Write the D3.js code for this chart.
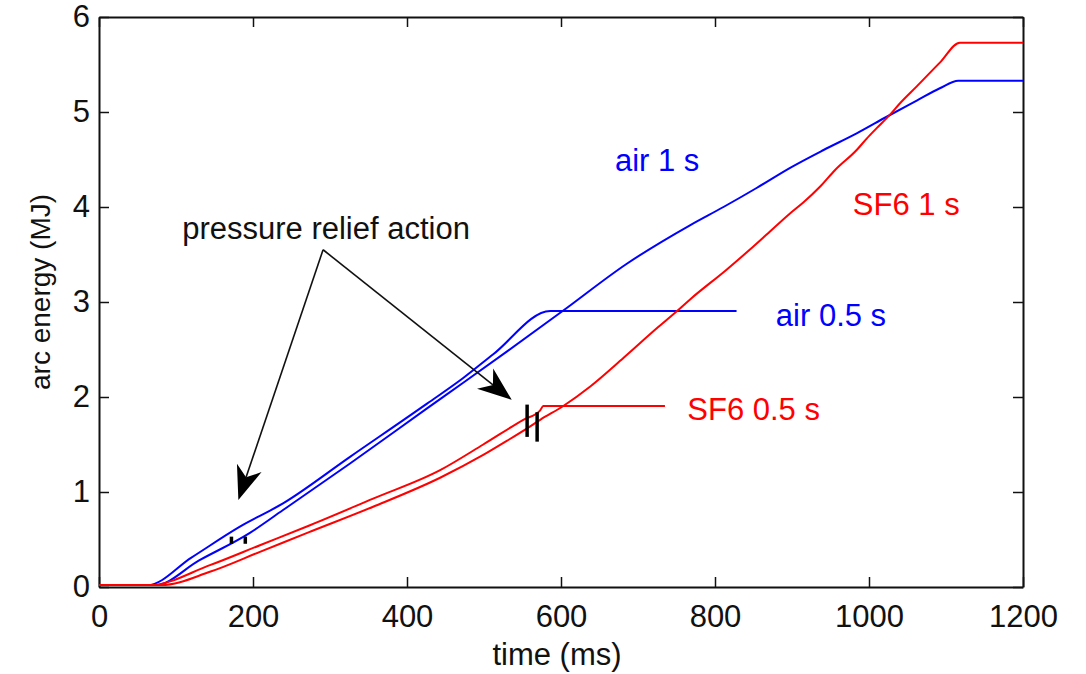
<!DOCTYPE html>
<html>
<head>
<meta charset="utf-8">
<script src="https://cdn.jsdelivr.net/npm/d3@7/dist/d3.min.js"></script>
<style>
  html, body { margin: 0; padding: 0; background: #fff; }
  svg { display: block; }
  text { font-family: "Liberation Sans", Arial, Helvetica, sans-serif; }
</style>
</head>
<body>
<svg id="chart" width="1086" height="674"></svg>
<script>
// Axis ticks
const xTicks = [0, 200, 400, 600, 800, 1000, 1200];
const yTicks = [0, 1, 2, 3, 4, 5, 6];

// Arc energy (MJ) against time (ms)
const airLongTime   = [0, 73, 130, 196, 239, 326, 426, 473, 530, 603, 685, 768, 811, 854, 897, 941, 984, 1023, 1062, 1092, 1116, 1200];
const airLongEnergy = [0.02, 0.02, 0.28, 0.57, 0.81, 1.30, 1.88, 2.15, 2.48, 2.91, 3.40, 3.81, 4.00, 4.20, 4.41, 4.60, 4.775, 4.95, 5.12, 5.25, 5.33, 5.33];

const airShortTime   = [0, 63, 120, 183, 239, 326, 426, 473, 512, 586, 828];
const airShortEnergy = [0.02, 0.02, 0.31, 0.635, 0.88, 1.37, 1.93, 2.20, 2.45, 2.905, 2.905];

const sf6LongTime   = [0, 81, 144, 209, 272, 356, 443, 499, 530, 556, 573, 603, 638, 681, 724, 750, 768, 815, 845, 867, 897, 915, 936, 956, 984, 997, 1010, 1027, 1040, 1062, 1092, 1118, 1200];
const sf6LongEnergy = [0.02, 0.02, 0.16, 0.37, 0.575, 0.845, 1.15, 1.39, 1.54, 1.67, 1.76, 1.905, 2.11, 2.41, 2.72, 2.90, 3.03, 3.34, 3.55, 3.71, 3.93, 4.05, 4.21, 4.39, 4.60, 4.72, 4.83, 4.97, 5.09, 5.27, 5.52, 5.73, 5.73];

const sf6ShortTime   = [0, 66, 144, 209, 274, 356, 443, 499, 551, 573, 577, 735];
const sf6ShortEnergy = [0.02, 0.02, 0.23, 0.44, 0.65, 0.93, 1.23, 1.50, 1.76, 1.86, 1.905, 1.905];

// Curve labels (left edge, baseline)
const curveLabels = [
  { text: "air 1 s",   t: 670, e: 4.38, color: "#0000ff" },
  { text: "air 0.5 s", t: 879, e: 2.75, color: "#0000ff" },
  { text: "SF6 1 s",   t: 979, e: 3.92, color: "#ff0000" },
  { text: "SF6 0.5 s", t: 764, e: 1.76, color: "#ff0000" }
];

// Pressure relief annotation: text, arrow origin and arrow tips
const reliefText = { text: "pressure relief action", t: 108, e: 3.66 };
const arrowOrigin = { t: 291, e: 3.55 };
const arrowTips = [ { t: 181, e: 0.915 }, { t: 536, e: 1.97 } ];

// Short black bars marking the relief events
const reliefMarks = [
  { t: 172, e0: 0.455, e1: 0.53 },
  { t: 190, e0: 0.455, e1: 0.53 },
  { t: 556, e0: 1.58, e1: 1.92 },
  { t: 569, e0: 1.53, e1: 1.84 }
];

const svg = d3.select("#chart");
const margin = { left: 99, right: 63, top: 17, bottom: 87 };
const W = 1086, H = 674;

const x = d3.scaleLinear().domain([0, 1200]).range([margin.left, W - margin.right]);
const y = d3.scaleLinear().domain([0, 6]).range([H - margin.bottom, margin.top]);

const fontSize = 31;
const fmt = d3.format("d");

// Axes with inward ticks on all four sides
const gx = svg.append("g").attr("transform", `translate(0,${y(0)})`)
  .call(d3.axisBottom(x).tickValues(xTicks).tickFormat(fmt).tickSize(-10).tickSizeOuter(0).tickPadding(18));
const gy = svg.append("g").attr("transform", `translate(${x(0)},0)`)
  .call(d3.axisLeft(y).tickValues(yTicks).tickFormat(fmt).tickSize(-10).tickSizeOuter(0).tickPadding(9));
const gt = svg.append("g").attr("transform", `translate(0,${y(6)})`)
  .call(d3.axisTop(x).tickValues(xTicks).tickSize(-10).tickSizeOuter(0).tickFormat(""));
const gr = svg.append("g").attr("transform", `translate(${x(1200)},0)`)
  .call(d3.axisRight(y).tickValues(yTicks).tickSize(-10).tickSizeOuter(0).tickFormat(""));

[gx, gy, gt, gr].forEach(g => {
  g.select(".domain").attr("stroke", "#111").attr("stroke-width", 2);
  g.selectAll(".tick line").attr("stroke", "#111").attr("stroke-width", 1.5);
  g.selectAll(".tick text").attr("fill", "#111").style("font-size", fontSize + "px")
    .style("font-family", "'Liberation Sans', Arial, sans-serif");
});

// Axis titles
svg.append("text")
  .attr("x", 557)
  .attr("y", 665)
  .attr("text-anchor", "middle")
  .style("font-size", fontSize + "px")
  .attr("fill", "#111")
  .text("time (ms)");

svg.append("text")
  .attr("transform", "translate(50,292) rotate(-90)")
  .attr("text-anchor", "middle")
  .style("font-size", "28px")
  .attr("fill", "#111")
  .text("arc energy (MJ)");

// Curves
const line = d3.line().x(d => x(d[0])).y(d => y(d[1])).curve(d3.curveMonotoneX);
const series = [
  { t: airLongTime,   e: airLongEnergy,   color: "#0000ff" },
  { t: airShortTime,  e: airShortEnergy,  color: "#0000ff" },
  { t: sf6LongTime,   e: sf6LongEnergy,   color: "#ff0000" },
  { t: sf6ShortTime,  e: sf6ShortEnergy,  color: "#ff0000" }
];
const plot = svg.append("g");
series.forEach(s => {
  plot.append("path")
    .datum(s.t.map((t, i) => [t, s.e[i]]))
    .attr("fill", "none")
    .attr("stroke", s.color)
    .attr("stroke-width", 2)
    .attr("stroke-linejoin", "round")
    .attr("d", line);
});

// Relief marks
plot.selectAll(".mark").data(reliefMarks).enter().append("line")
  .attr("x1", d => x(d.t)).attr("x2", d => x(d.t))
  .attr("y1", d => y(d.e0)).attr("y2", d => y(d.e1))
  .attr("stroke", "#000").attr("stroke-width", 3.5);

// Curve labels
svg.selectAll(".clabel").data(curveLabels).enter().append("text")
  .attr("x", d => x(d.t)).attr("y", d => y(d.e))
  .style("font-size", fontSize + "px")
  .attr("fill", d => d.color)
  .text(d => d.text);

// Annotation text
svg.append("text")
  .attr("x", x(reliefText.t)).attr("y", y(reliefText.e))
  .style("font-size", fontSize + "px")
  .attr("fill", "#111")
  .text(reliefText.text);

// Annotation arrows with swept-back heads
const ox = x(arrowOrigin.t), oy = y(arrowOrigin.e);
arrowTips.forEach(tip => {
  const tx = x(tip.t), ty = y(tip.e);
  const dx = tx - ox, dy = ty - oy, len = Math.hypot(dx, dy);
  const ux = dx / len, uy = dy / len, px = -uy, py = ux;
  const headLen = 34, headHalf = 13, notch = 24;
  const bx = tx - ux * notch, by = ty - uy * notch;
  svg.append("line")
    .attr("x1", ox).attr("y1", oy).attr("x2", bx).attr("y2", by)
    .attr("stroke", "#111").attr("stroke-width", 1.6);
  const pts = [
    [tx, ty],
    [tx - ux * headLen + px * headHalf, ty - uy * headLen + py * headHalf],
    [bx, by],
    [tx - ux * headLen - px * headHalf, ty - uy * headLen - py * headHalf]
  ];
  svg.append("path")
    .attr("d", "M" + pts.map(p => p.join(",")).join("L") + "Z")
    .attr("fill", "#000");
});
</script>
</body>
</html>
